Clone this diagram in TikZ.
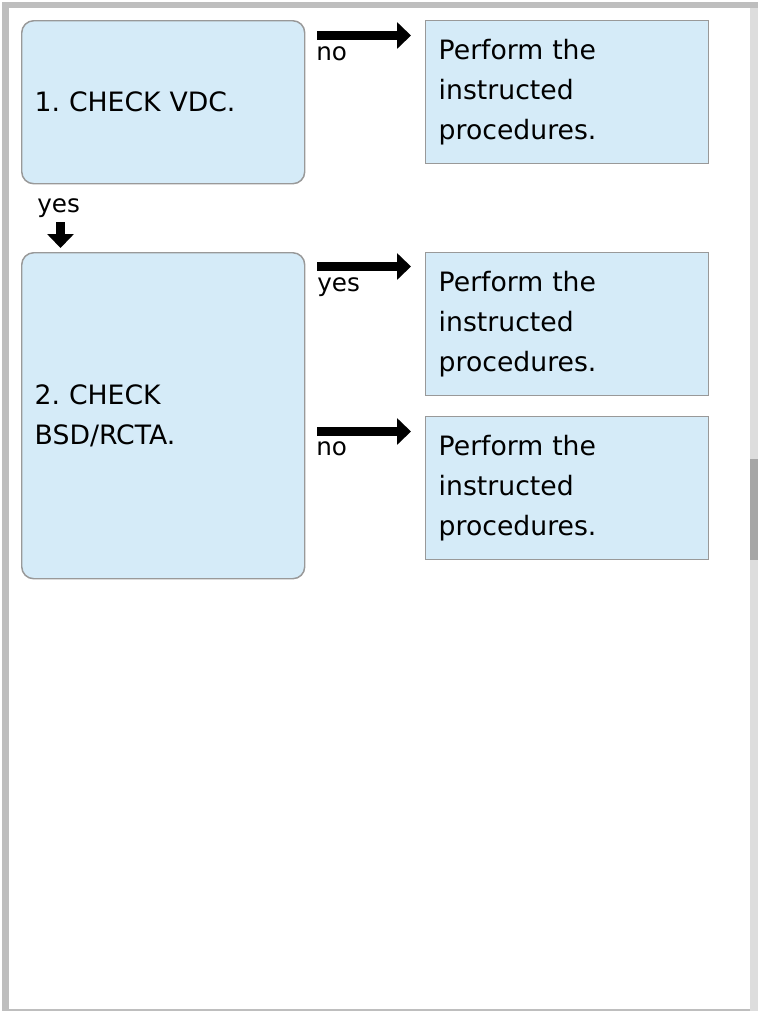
\documentclass[tikz,border=0pt]{standalone}
\usepackage{fontspec}
\setmainfont{DejaVu Sans}
\frenchspacing
\usetikzlibrary{arrows.meta,calc}
\definecolor{boxfill}{HTML}{D5EBF8}
\definecolor{boxline}{HTML}{999999}
\definecolor{framegray}{HTML}{BEBEBE}
\definecolor{trackgray}{HTML}{DDDDDD}
\definecolor{thumbgray}{HTML}{A6A6A6}
\tikzset{
  txt/.style={font=\fontsize{20pt}{30pt}\selectfont},
  lbl/.style={font=\fontsize{18.5pt}{22pt}\selectfont, inner sep=0pt, anchor=base west},
  checkbox/.style={txt, draw=boxline, line width=1.1pt, fill=boxfill,
    rounded corners=9pt, anchor=north west, align=left,
    text width=192.75pt, inner xsep=9.75pt, inner ysep=0pt},
  actbox/.style={txt, draw=boxline, line width=1.1pt, fill=boxfill,
    anchor=north west, align=left, minimum height=106.875pt,
    text width=192.75pt, inner xsep=9.75pt, inner ysep=0pt},
  flow/.style={line width=6.4pt, -{Triangle[length=10.5pt,width=19.5pt]}},
}
\begin{document}
\begin{tikzpicture}[x=0.75pt,y=-0.75pt]
  \useasboundingbox (0,0) rectangle (758,1011);
  \fill[white] (0,0) rectangle (758,1011);
  % window frame and scrollbar
  \fill[framegray] (2,2) rectangle (758,8);
  \fill[framegray] (2,2) rectangle (9,1011);
  \fill[framegray] (2,1008.5) rectangle (750,1010.5);
  \fill[trackgray] (750,8) rectangle (758,1011);
  \fill[thumbgray] (750,459) rectangle (758,560);

  % decision steps
  \node[checkbox, minimum height=122.25pt] (q1) at (21,20) {1. CHECK VDC.};
  \node[checkbox, minimum height=244.5pt] (q2) at (21,252) {2. CHECK\\BSD/RCTA.};

  % actions
  \node[actbox] (a1) at (425,20) {Perform the\\instructed\\procedures.};
  \node[actbox] (a2) at (425,252) {Perform the\\instructed\\procedures.};
  \node[actbox] (a3) at (425,416) {Perform the\\instructed\\procedures.};

  % connectors
  \draw[flow] ($(q1.north east)+(12,15.5)$) -- ($(a1.north west)+(-14,15.5)$);
  \draw[flow] ($(q2.north east)+(12,14.5)$) -- ($(a2.north west)+(-14,14.5)$);
  \draw[flow] ($(q2.north east)+(12,179.5)$) -- ($(a3.north west)+(-14,15.5)$);
  \draw[flow] ($(q1.south west)+(39.5,38)$) -- ($(q2.north west)+(39.5,-4)$);

  % branch labels
  \node[lbl] (l1) at (316,60) {no};
  \node[lbl] (l2) at (317,291) {yes};
  \node[lbl] (l3) at (316,455) {no};
  \node[lbl] (l4) at (37,212) {yes};
\end{tikzpicture}
\end{document}
